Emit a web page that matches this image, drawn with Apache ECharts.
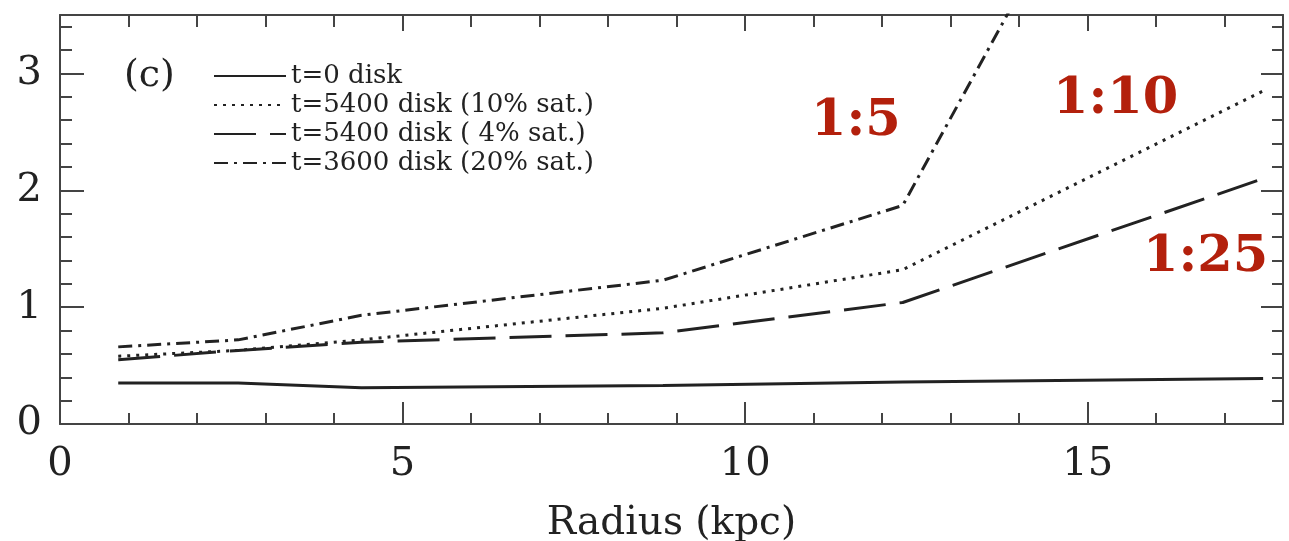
<!DOCTYPE html>
<html>
<head>
<meta charset="utf-8">
<script src="https://cdn.jsdelivr.net/npm/echarts@6/dist/echarts.min.js"></script>
<style>
  html, body { margin: 0; padding: 0; background: #fff; }
  #chart { width: 1289px; height: 541px; }
</style>
</head>
<body>
<div id="chart"></div>
<script>
// radius (kpc) of the sample points
var radius = [0.85, 2.6, 4.4, 8.8, 12.3, 17.56];
// disk thickness for each run
var disk_t0 = [0.35, 0.35, 0.31, 0.33, 0.36, 0.39];
var disk_5400_10 = [0.58, 0.63, 0.72, 0.99, 1.32, 2.85];
var disk_5400_4 = [0.55, 0.63, 0.70, 0.78, 1.04, 2.10];
var disk_3600_20 = [0.66, 0.72, 0.93, 1.23, 1.87, 7.5];

var names = ['t=0 disk', 't=5400 disk (10% sat.)', 't=5400 disk ( 4% sat.)', 't=3600 disk (20% sat.)'];
var ratioLabels = ['1:5', '1:10', '1:25'];

var serif = 'DejaVu Serif';
var ink = '#222';
var frame = '#444';

function pts(ys) {
    return radius.map(function (x, i) { return [x, ys[i]]; });
}

var myChart = echarts.init(document.getElementById('chart'));

/*
 * frame: grid 0 carries the major ticks and labels,
 * grid 1 lies on top of it with the minor ticks only */
function xAx(grid, pos, step, len) {
    var lab = grid === 0 && pos === 'bottom';
    return {
        type: 'value', gridIndex: grid, position: pos, min: 0, max: 17.85, interval: step,
        axisLine: { show: grid === 0, onZero: false, lineStyle: { color: frame, width: 2 } },
        axisTick: { inside: true, length: len, lineStyle: { color: frame, width: 2 } },
        axisLabel: {
            show: lab, showMaxLabel: false,
            fontFamily: serif, fontSize: 40, color: ink, margin: 21
        },
        splitLine: { show: false },
        name: lab ? 'Radius (kpc)' : '',
        nameLocation: 'middle', nameGap: 80,
        nameTextStyle: { fontFamily: serif, fontSize: 39, color: ink }
    };
}
function yAx(grid, pos, step, len) {
    var lab = grid === 0 && pos === 'left';
    return {
        type: 'value', gridIndex: grid, position: pos, min: 0, max: 3.5, interval: step,
        axisLine: { show: grid === 0, onZero: false, lineStyle: { color: frame, width: 2 } },
        axisTick: { inside: true, length: len, lineStyle: { color: frame, width: 2 } },
        axisLabel: {
            show: lab, showMaxLabel: false,
            fontFamily: serif, fontSize: 40, color: ink, margin: 18
        },
        splitLine: { show: false }
    };
}

var box = { left: 60, right: 6, top: 15, bottom: 117, outerBoundsMode: 'none' };

var option = {
    animation: false,
    grid: [box, box],
    xAxis: [
        xAx(0, 'bottom', 5, 22),
        xAx(0, 'top', 5, 16),
        xAx(1, 'bottom', 1, 11),
        xAx(1, 'top', 1, 12)
    ],
    yAxis: [
        yAx(0, 'left', 1, 24),
        yAx(0, 'right', 1, 22),
        yAx(1, 'left', 0.2, 12),
        yAx(1, 'right', 0.2, 11)
    ],
    legend: {
        orient: 'vertical',
        left: 213, top: 63, padding: 0,
        itemWidth: 72, itemHeight: 14, itemGap: 3,
        itemStyle: { opacity: 0 },
        textStyle: { fontFamily: serif, fontSize: 26, color: ink, lineHeight: 24 },
        data: names
    },
    graphic: [
        { type: 'text', x: 124, y: 76, style: { text: '(c)', font: '38px "DejaVu Serif"', fill: ink, verticalAlign: 'middle' } },
        { type: 'text', x: 811, y: 122, style: { text: ratioLabels[0], font: 'bold 51px "DejaVu Serif"', fill: '#b3200c', verticalAlign: 'middle' } },
        { type: 'text', x: 1053, y: 100, style: { text: ratioLabels[1], font: 'bold 51px "DejaVu Serif"', fill: '#b3200c', verticalAlign: 'middle' } },
        { type: 'text', x: 1143, y: 258, style: { text: ratioLabels[2], font: 'bold 51px "DejaVu Serif"', fill: '#b3200c', verticalAlign: 'middle' } }
    ],
    series: [
        {
            name: names[0], type: 'line', symbol: 'none',
            lineStyle: { color: ink, width: 3, type: 'solid' },
            itemStyle: { color: ink },
            data: pts(disk_t0)
        },
        {
            name: names[1], type: 'line', symbol: 'none',
            lineStyle: { color: ink, width: 3, type: [3, 6] },
            itemStyle: { color: ink },
            data: pts(disk_5400_10)
        },
        {
            name: names[2], type: 'line', symbol: 'none',
            lineStyle: { color: ink, width: 3, type: [42, 14] },
            itemStyle: { color: ink },
            data: pts(disk_5400_4)
        },
        {
            name: names[3], type: 'line', symbol: 'none',
            lineStyle: { color: ink, width: 3, type: [14, 6, 3, 6] },
            itemStyle: { color: ink },
            data: pts(disk_3600_20)
        }
    ]
};
myChart.setOption(option);
</script>
</body>
</html>
